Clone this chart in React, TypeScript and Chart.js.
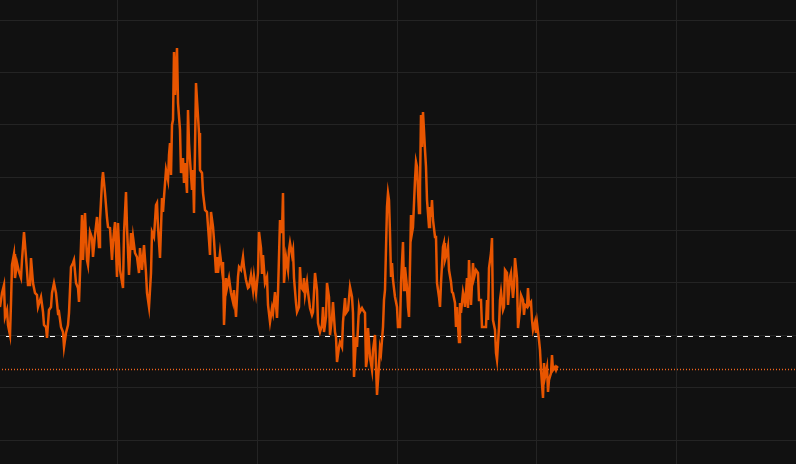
import { useEffect, useRef } from 'react';
import { Chart, registerables } from 'chart.js';

Chart.register(...registerables);

// Session index (x) and index level (y)
const sessions = [
  0, 2, 4, 5, 7, 8, 10, 11, 12, 14, 15, 17, 19, 21, 22, 24, 26, 28, 30, 31, 33, 35, 37, 38, 41, 43, 44, 46, 47, 49,
  51, 52, 54, 56, 58, 59, 61, 63, 64, 66, 68, 69, 71, 73, 74, 76, 78, 79, 81, 82, 83, 85, 87, 88, 90, 92, 93, 95, 97, 99,
  100, 102, 103, 105, 107, 108, 110, 112, 113, 115, 117, 118, 120, 123, 124, 126, 127, 129, 131, 132, 133, 135, 137, 139,
  140, 142, 144, 146, 147, 149, 151, 152, 154, 156, 157, 158, 160, 162, 163, 164, 166, 168, 169, 170, 171, 172, 173, 174,
  175, 177, 178, 180, 181, 183, 184, 185, 187, 188, 189, 190, 192, 193, 194, 196, 197, 199, 200, 202, 203, 205, 207, 209,
  210, 211, 213, 214, 216, 217, 218, 220, 222, 223, 224, 226, 227, 229, 231, 233, 234, 236, 238, 239, 241, 243, 244, 246,
  248, 249, 251, 253, 254, 256, 258, 259, 261, 262, 263, 265, 267, 268, 270, 272, 273, 275, 277, 278, 280, 282, 283, 284,
  286, 288, 289, 290, 292, 293, 294, 296, 297, 299, 300, 301, 303, 304, 305, 307, 308, 310, 312, 313, 315, 317, 318, 320,
  322, 323, 324, 326, 327, 329, 330, 332, 333, 335, 336, 337, 339, 340, 342, 343, 345, 346, 348, 350, 352, 353, 354, 356,
  357, 359, 360, 362, 363, 365, 366, 367, 368, 370, 372, 373, 375, 376, 377, 379, 380, 381, 383, 384, 385, 387, 388, 389,
  390, 391, 392, 393, 395, 397, 398, 400, 401, 403, 404, 405, 407, 408, 409, 411, 412, 413, 415, 416, 417, 419, 420, 421,
  422, 423, 425, 426, 427, 429, 430, 431, 432, 433, 435, 436, 437, 439, 440, 441, 443, 444, 445, 447, 448, 449, 451, 452,
  453, 455, 456, 457, 459, 460, 461, 463, 464, 465, 467, 468, 469, 471, 473, 474, 476, 478, 479, 481, 482, 484, 486, 487,
  488, 489, 491, 492, 493, 495, 496, 497, 499, 500, 501, 503, 504, 505, 507, 508, 510, 511, 513, 514, 515, 517, 518, 520,
  521, 523, 524, 525, 527, 528, 529, 531, 532, 533, 535, 536, 537, 539, 540, 541, 543, 544, 545, 547, 548, 549, 551, 552,
  553, 555, 556, 557, 558,
];

const levels = [
  133, 147, 155, 123, 130, 115, 105, 137, 175, 186, 162, 177, 168, 162, 180, 208, 183, 155, 155, 182, 157, 147, 145, 133, 143, 128, 115, 113, 102, 130,
  133, 147, 157, 147, 127, 128, 113, 108, 93, 107, 115, 127, 173, 177, 180, 157, 152, 138, 195, 225, 180, 227, 180, 175, 208, 202, 183, 205, 223, 193,
  220, 258, 268, 247, 222, 213, 212, 180, 198, 218, 163, 217, 170, 152, 207, 248, 213, 165, 207, 190, 203, 187, 183, 167,
  192, 170, 195, 167, 147, 133, 167, 208, 203, 235, 237, 213, 182, 242, 228, 243, 270, 260, 285, 297, 265, 315, 320, 388,
  345, 392, 337, 310, 267, 282, 257, 277, 247, 330, 297, 280, 250, 270, 227, 357, 340, 307, 270, 267, 247, 230, 228, 200,
  185, 228, 213, 200, 167, 183, 167, 187, 170, 178, 115, 162, 152, 162, 147, 138, 150, 123, 163, 173, 170, 183, 173, 160,
  152, 153, 165, 150, 163, 147, 167, 208, 192, 166, 185, 157, 163, 135, 118, 132, 127, 148, 122, 147, 220, 207, 247, 157,
  183, 170, 190, 197, 185, 190, 162, 137, 128, 133, 173, 153, 150, 162, 145, 158, 148, 132, 125, 128, 167, 150, 117, 108,
  115, 133, 108, 123, 157, 143, 105, 122, 138, 108, 103, 78, 93, 98, 93, 118, 142, 127, 130, 153, 143, 127, 63, 103,
  93, 133, 128, 132, 130, 127, 73, 80, 112, 83, 70, 90, 105, 75, 45, 75, 92, 87, 113, 140, 150, 233, 247, 240,
  207, 163, 177, 160, 143, 133, 113, 113, 157, 198, 150, 173, 153, 133, 123, 225, 207, 213, 260, 278, 273, 227, 253, 325,
  293, 328, 290, 273, 240, 213, 233, 223, 240, 220, 203, 203, 157, 143, 133, 157, 193, 197, 180, 187, 193, 170, 158, 148,
  147, 137, 113, 133, 98, 137, 127, 148, 143, 133, 162, 132, 180, 135, 177, 162, 170, 167, 140, 140, 113, 113, 113, 140,
  120, 172, 187, 202, 120, 110, 87, 80, 113, 140, 148, 130, 133, 170, 167, 135, 163, 167, 142, 153, 182, 162, 112, 130,
  145, 140, 125, 135, 133, 152, 135, 138, 120, 110, 118, 107, 117, 100, 90, 70, 42, 77, 63, 73, 48, 60, 67, 85,
  70, 73, 70, 73, 72,
];

const averageLevel = 103.5;
const currentLevel = 70.5;

const xGridTicks = [117, 257, 397, 536, 676];
const yGridTicks = [0, 52.5, 105, 157.5, 210, 262.5, 315, 367.5, 420];
const xRange = [0, 796];
const yRange = [-24, 440];

export default function App() {
  const canvasRef = useRef<HTMLCanvasElement | null>(null);

  useEffect(() => {
    document.body.style.margin = '0';
    document.body.style.background = '#111111';
    const canvas = canvasRef.current;
    if (!canvas) return;

    const series = sessions.map((x, i) => ({ x, y: levels[i] }));
    const gridColor = '#242424';

    const chart = new Chart(canvas, {
      type: 'line',
      data: {
        datasets: [
          {
            data: series,
            borderColor: '#e85500',
            borderWidth: 2.5,
            pointRadius: 0,
            tension: 0,
          },
          {
            data: [
              { x: xRange[0], y: averageLevel },
              { x: xRange[1], y: averageLevel },
            ],
            borderColor: '#ffffff',
            borderWidth: 1.2,
            borderDash: [5, 6],
            borderDashOffset: -6,
            pointRadius: 0,
          },
          {
            data: [
              { x: xRange[0], y: currentLevel },
              { x: xRange[1], y: currentLevel },
            ],
            borderColor: '#f0651e',
            borderWidth: 1.5,
            borderDash: [1, 2],
            borderDashOffset: -2,
            pointRadius: 0,
          },
        ],
      },
      options: {
        responsive: false,
        maintainAspectRatio: false,
        animation: false,
        devicePixelRatio: 1,
        layout: { padding: 0, autoPadding: false },
        plugins: {
          legend: { display: false },
          tooltip: { enabled: false },
        },
        scales: {
          x: {
            type: 'linear',
            min: xRange[0],
            max: xRange[1],
            afterBuildTicks: (scale: any) => {
              scale.ticks = xGridTicks.map((value) => ({ value }));
            },
            ticks: { display: false },
            grid: { color: gridColor, drawTicks: false, lineWidth: 1 },
            border: { display: false },
          },
          y: {
            type: 'linear',
            min: yRange[0],
            max: yRange[1],
            afterBuildTicks: (scale: any) => {
              scale.ticks = yGridTicks.map((value) => ({ value }));
            },
            ticks: { display: false },
            grid: { color: gridColor, drawTicks: false, lineWidth: 1 },
            border: { display: false },
          },
        },
      },
    });

    return () => chart.destroy();
  }, []);

  return (
    <div style={{ width: 796, height: 464, background: '#111111' }}>
      <canvas ref={canvasRef} width={796} height={464} style={{ display: 'block' }} />
    </div>
  );
}
